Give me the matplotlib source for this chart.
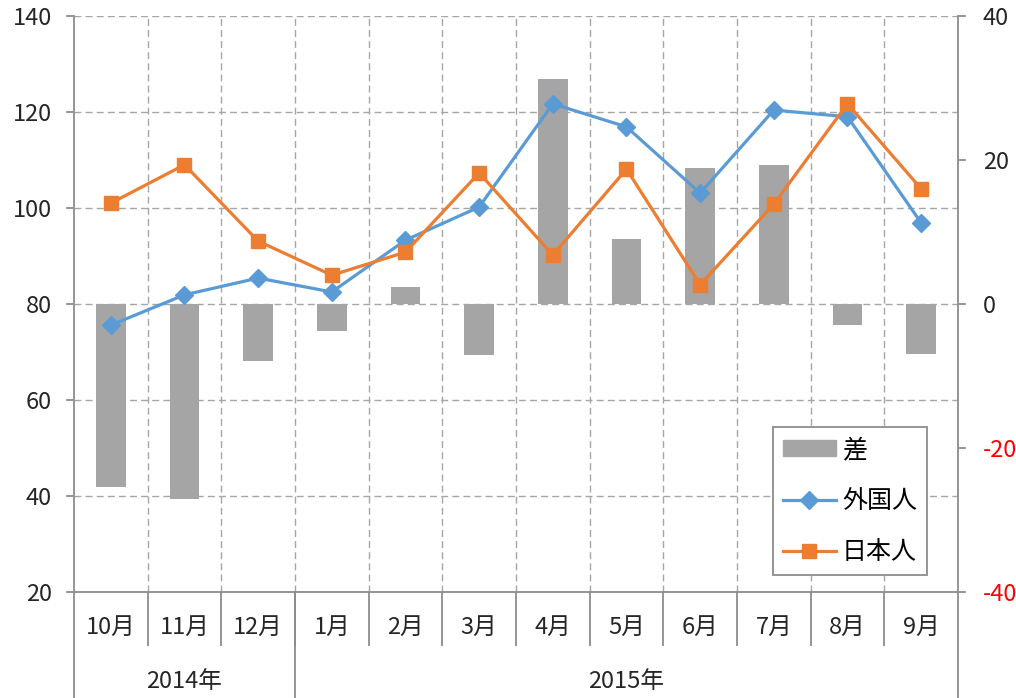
import matplotlib.pyplot as plt
import matplotlib.transforms as mtransforms
from matplotlib.patches import Patch
import numpy as np

plt.rcParams['font.family'] = ['Noto Sans CJK JP', 'DejaVu Sans']
plt.rcParams['axes.unicode_minus'] = False

months = ["10月", "11月", "12月", "1月", "2月", "3月", "4月", "5月", "6月", "7月", "8月", "9月"]
years = ["2014年", "2015年"]
year_spans = [(0, 2), (3, 11)]

foreign = [75.6, 81.9, 85.4, 82.5, 93.3, 100.2, 121.7, 116.9, 103.1, 120.4, 119.0, 96.9]
japanese = [101.0, 109.0, 93.1, 86.0, 90.8, 107.3, 90.2, 108.1, 84.0, 100.8, 121.7, 104.0]
diff = [-25.4, -27.1, -7.9, -3.7, 2.4, -7.1, 31.3, 9.0, 18.9, 19.3, -2.9, -6.9]

GRID = '#a6a6a6'
AXC = '#8c8c8c'
TXT = '#262626'
FS = 17

fig = plt.figure(figsize=(10.16, 6.98), dpi=100)
ax = fig.add_axes([0.0728, 0.1519, 0.8701, 0.8252])
x = np.arange(len(months))

# left axis + grid
ax.set_xlim(-0.5, len(months) - 0.5)
ax.set_ylim(20, 140)
ax.set_yticks(range(20, 141, 20))
ax.grid(axis='y', ls=(0, (5, 3)), color=GRID, lw=1)
ax.set_xticks(x, months)
ax.set_xticks(x[:-1] + 0.5, minor=True)
ax.grid(axis='x', which='minor', ls=(0, (5, 3)), color=GRID, lw=1)
ax.tick_params(axis='x', which='major', length=0, pad=17, labelsize=FS, labelcolor=TXT)
ax.tick_params(axis='x', which='minor', length=39, width=1.3, color=AXC, direction='out')
ax.tick_params(axis='y', length=6, width=1.3, color=AXC, pad=10, labelsize=FS, labelcolor=TXT)
for s in ('top', 'right'):
    ax.spines[s].set_visible(False)
for s in ('left', 'bottom'):
    ax.spines[s].set_color(AXC)
    ax.spines[s].set_linewidth(1.3)

# two-level category axis
trans = mtransforms.blended_transform_factory(ax.transData, ax.transAxes)
for xb in (-0.5, year_spans[0][1] + 0.5, len(months) - 0.5):
    ax.plot([xb, xb], [0, -0.19], transform=trans, color=AXC, lw=1.3, clip_on=False)
for label, (a, b) in zip(years, year_spans):
    ax.text((a + b) / 2, -0.155, label, transform=trans, ha='center', va='center',
            fontsize=FS, color=TXT)

# right axis: difference bars
axb = ax.twinx()
bars = axb.bar(x, diff, width=0.4, color='#a5a5a5', label='差')
axb.set_ylim(-40, 40)
axb.set_yticks(range(-40, 41, 20))
axb.tick_params(axis='y', length=6, width=1.3, color=AXC, pad=12, labelsize=FS)
for s in ('top', 'left', 'bottom'):
    axb.spines[s].set_visible(False)
axb.spines['right'].set_color(AXC)
axb.spines['right'].set_linewidth(1.3)
for t, v in zip(axb.get_yticklabels(), axb.get_yticks()):
    t.set_color('red' if v < 0 else TXT)

# lines on top
axl = ax.twinx()
axl.set_ylim(20, 140)
axl.set_axis_off()
lf, = axl.plot(x, foreign, color='#5b9bd5', lw=2.3, marker='D', ms=9, label='外国人')
lj, = axl.plot(x, japanese, color='#ed7d31', lw=2.3, marker='s', ms=10, label='日本人')

leg = axl.legend([Patch(color='#a5a5a5'), lf, lj], ['差', '外国人', '日本人'],
                 loc='upper left', bbox_to_anchor=(0.791, 0.2865), bbox_transform=ax.transAxes,
                 fancybox=False, edgecolor=AXC, framealpha=1, fontsize=18,
                 handlelength=2.1, handleheight=0.6, labelspacing=1.0,
                 handletextpad=0.25, borderaxespad=0, borderpad=0.4)
leg.get_frame().set_linewidth(1.3)

fig.savefig('out.png', dpi=100)
